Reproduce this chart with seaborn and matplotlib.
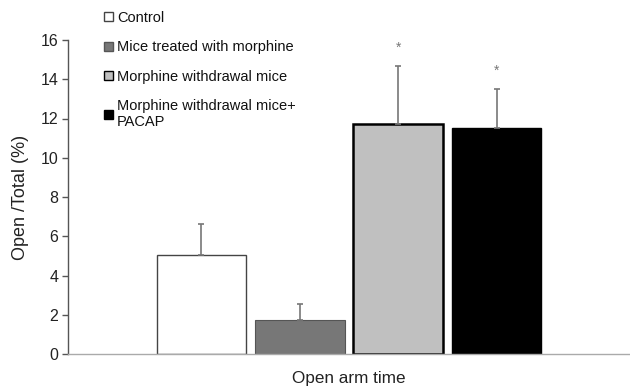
import matplotlib
matplotlib.use("Agg")
import matplotlib.pyplot as plt
import seaborn as sns
import pandas as pd

groups = ["Control", "Mice treated with morphine", "Morphine withdrawal mice",
          "Morphine withdrawal mice+\nPACAP"]
values = [5.05, 1.75, 11.7, 11.5]
errors = [1.55, 0.8, 3.0, 2.0]
significant = [False, False, True, True]
category = "Open arm time"

fill_colors = ["#ffffff", "#777777", "#c0c0c0", "#000000"]
edge_colors = ["#444444", "#555555", "#000000", "#000000"]
edge_widths = [1.0, 0.8, 1.8, 1.0]

sns.set_style("white")
plt.rcParams["font.family"] = ["Liberation Sans", "DejaVu Sans"]

df = pd.DataFrame({"x": [category] * len(groups), "group": groups, "value": values})

fig = plt.figure(figsize=(6.3, 3.86), dpi=100)
ax = fig.add_axes([68 / 630, 1 - 354 / 386, 1 - 68 / 630, (354 - 40) / 386])

sns.barplot(data=df, x="x", y="value", hue="group", hue_order=groups,
            palette=dict(zip(groups, fill_colors)), width=0.7, gap=0.09,
            errorbar=None, ax=ax, legend=True)

bar_containers = list(ax.containers)
for i, cont in enumerate(bar_containers):
    for p in cont.patches:
        p.set_edgecolor(edge_colors[i])
        p.set_linewidth(edge_widths[i])
        cx = p.get_x() + p.get_width() / 2
        top = p.get_height()
        ax.errorbar([cx], [top], yerr=[[0], [errors[i]]], fmt="none",
                    ecolor="#777777", elinewidth=1.2, capsize=2, capthick=1.2,
                    zorder=1)
        if significant[i]:
            ax.text(cx, top + errors[i] + 0.55, "*", ha="center", va="bottom",
                    fontsize=10, color="#777777", clip_on=False)

ax.set_ylim(0, 16)
ax.set_xlim(-0.5, 0.5)
ax.set_yticks(range(0, 17, 2))
ax.set_xticks([])
ax.tick_params(axis="y", left=True, length=4, width=1, color="#555555",
               labelsize=11.5, pad=3, labelcolor="#222222")
for s in ["top", "right"]:
    ax.spines[s].set_visible(False)
ax.spines["left"].set_color("#555555")
ax.spines["bottom"].set_color("#aaaaaa")
ax.spines["left"].set_linewidth(1.0)
ax.spines["bottom"].set_linewidth(1.0)

ax.set_ylabel("Open /Total (%)", fontsize=13, color="#222222", labelpad=8)
ax.set_xlabel(category, fontsize=12.3, color="#222222", labelpad=12)

handles, labels = ax.get_legend_handles_labels()
for h, ec in zip(handles, edge_colors):
    h.set_edgecolor(ec)
    h.set_linewidth(1.0)
leg = ax.legend(handles, labels, loc="upper left",
                bbox_to_anchor=(104 / 630, 1 - 11 / 386), bbox_transform=fig.transFigure,
                frameon=False, fontsize=10.5, handlelength=0.6, handleheight=0.6,
                handletextpad=0.3, labelspacing=1.05, borderpad=0, borderaxespad=0)
for t in leg.get_texts():
    t.set_linespacing(1.2)
    t.set_color("#111111")

fig.savefig("out.png", dpi=100)
